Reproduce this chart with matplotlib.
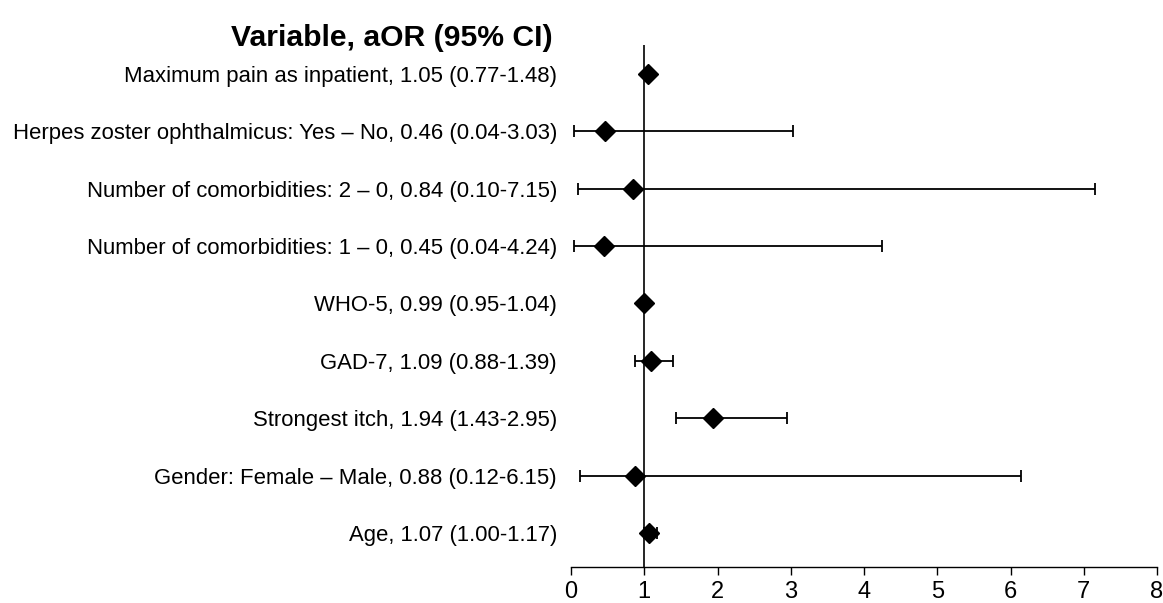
import matplotlib
matplotlib.use("Agg")
import matplotlib.pyplot as plt

plt.rcParams['font.family'] = ['Liberation Sans', 'DejaVu Sans']

# Data (top to bottom)
variables = [
    "Maximum pain as inpatient",
    "Herpes zoster ophthalmicus: Yes \u2013 No",
    "Number of comorbidities: 2 \u2013 0",
    "Number of comorbidities: 1 \u2013 0",
    "WHO-5",
    "GAD-7",
    "Strongest itch",
    "Gender: Female \u2013 Male",
    "Age",
]
aor = [1.05, 0.46, 0.84, 0.45, 0.99, 1.09, 1.94, 0.88, 1.07]
ci_low = [0.77, 0.04, 0.10, 0.04, 0.95, 0.88, 1.43, 0.12, 1.00]
ci_high = [1.48, 3.03, 7.15, 4.24, 1.04, 1.39, 2.95, 6.15, 1.17]
# whiskers are not drawn for the first row in the reference
show_ci = [False, True, True, True, True, True, True, True, True]
xticks = [0, 1, 2, 3, 4, 5, 6, 7, 8]

fig = plt.figure(figsize=(11.63, 6.03), dpi=100)
ax = fig.add_axes([571 / 1163, 1 - 567 / 603, (1157 - 571) / 1163, (567 - 45) / 603])

n = len(variables)
ypos = [n - i for i in range(n)]
labels = [f"{v}, {a:.2f} ({l:.2f}-{h:.2f})" for v, a, l, h in zip(variables, aor, ci_low, ci_high)]

ax.axvline(1, color='black', lw=1.2, zorder=1)

for y, a, l, h, s in zip(ypos, aor, ci_low, ci_high, show_ci):
    if s:
        ax.errorbar([a], [y], xerr=[[a - l], [h - a]], fmt='none', ecolor='black',
                    elinewidth=1.3, capsize=4, capthick=1.3, zorder=2)
    ax.plot([a], [y], marker='D', color='black', markersize=10, ls='none', zorder=3)

ax.set_xlim(0, 8)
ax.set_ylim(0.41, 9.5)
ax.set_xticks(xticks)
ax.set_xticklabels([str(t) for t in xticks], fontsize=17)
ax.set_yticks(ypos)
ax.set_yticklabels(labels, fontsize=15.9)
ax.tick_params(axis='y', length=0, pad=10)
ax.tick_params(axis='x', direction='out', length=6, width=1, pad=4)

for side in ['top', 'right', 'left']:
    ax.spines[side].set_visible(False)
ax.spines['bottom'].set_linewidth(1)

fig.text(553 / 1163, 1 - 38 / 603, "Variable, aOR (95% CI)", ha='right', va='center',
         fontsize=21.7, fontweight='bold')

fig.savefig("out.png", dpi=100)
